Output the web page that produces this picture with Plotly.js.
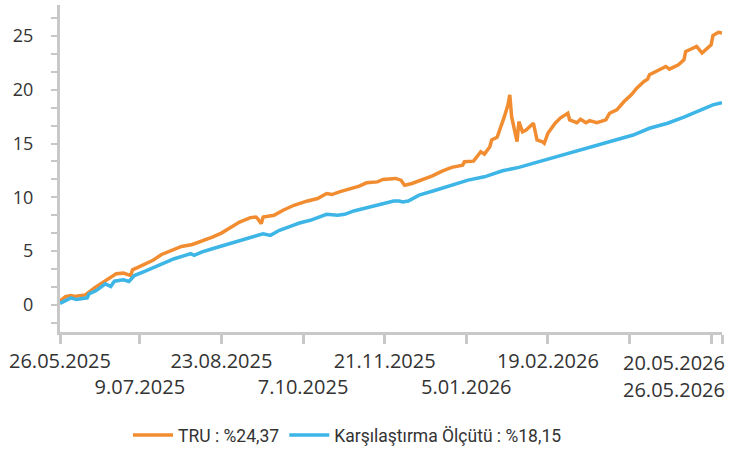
<!DOCTYPE html>
<html>
<head>
<meta charset="utf-8">
<script src="https://cdn.plot.ly/plotly-3.0.1.min.js"></script>
<style>
  html, body { margin: 0; padding: 0; background: #fff; }
  #plot { width: 739px; height: 451px; }
</style>
</head>
<body>
<div id="plot"></div>
<script>
// days since 26.05.2025 and cumulative return (%)
const truDays = [0, 3, 6, 8, 14, 17, 19, 23, 27, 31, 35, 37, 39, 40, 45, 51, 56, 62, 67, 73, 78, 84, 89, 94, 99, 105, 108, 109, 111, 112, 118, 123, 129, 136, 142, 147, 150, 154, 160, 165, 169, 175, 178, 185, 188, 190, 194, 200, 205, 211, 216, 222, 223, 228, 232, 234, 237, 238, 241, 245, 247, 248, 249, 252, 253, 255, 257, 261, 263, 266, 267, 269, 273, 276, 280, 281, 285, 287, 290, 292, 296, 301, 303, 307, 311, 315, 318, 322, 324, 325, 329, 334, 336, 341, 344, 345, 348, 351, 354, 358, 359, 360, 363, 365];
const truValues = [0.35, 0.75, 0.84, 0.75, 0.9, 1.31, 1.56, 2.0, 2.4, 2.87, 2.93, 2.8, 2.7, 3.24, 3.64, 4.1, 4.67, 5.05, 5.42, 5.6, 5.9, 6.29, 6.66, 7.22, 7.69, 8.1, 8.16, 8.0, 7.54, 8.16, 8.32, 8.79, 9.25, 9.63, 9.88, 10.35, 10.25, 10.5, 10.81, 11.03, 11.34, 11.43, 11.65, 11.75, 11.59, 11.12, 11.28, 11.65, 11.96, 12.46, 12.78, 12.99, 13.3, 13.36, 14.23, 14.02, 14.7, 15.33, 15.58, 17.5, 18.6, 19.53, 17.5, 15.17, 17.04, 16.1, 16.26, 16.89, 15.33, 15.17, 15.02, 15.95, 16.9, 17.4, 17.82, 17.2, 16.94, 17.26, 16.94, 17.13, 16.94, 17.2, 17.82, 18.13, 18.91, 19.53, 20.16, 20.78, 21.0, 21.4, 21.71, 22.18, 21.93, 22.34, 22.8, 23.58, 23.8, 24.05, 23.43, 24.05, 24.2, 25.05, 25.36, 25.3];

const benchDays = [0, 4, 6, 9, 15, 16, 20, 25, 28, 30, 35, 38, 41, 47, 52, 58, 63, 69, 72, 74, 78, 84, 89, 96, 103, 108, 112, 116, 121, 127, 132, 138, 143, 147, 153, 157, 162, 167, 173, 178, 184, 187, 189, 192, 198, 207, 216, 225, 234, 244, 253, 262, 271, 276, 280, 289, 298, 307, 316, 325, 335, 344, 353, 360, 365];
const benchValues = [0.12, 0.44, 0.63, 0.47, 0.63, 1.0, 1.31, 1.93, 1.68, 2.18, 2.31, 2.15, 2.71, 3.11, 3.49, 3.95, 4.27, 4.58, 4.74, 4.58, 4.89, 5.2, 5.45, 5.82, 6.23, 6.45, 6.6, 6.45, 6.92, 7.29, 7.6, 7.85, 8.16, 8.41, 8.32, 8.41, 8.72, 8.94, 9.25, 9.41, 9.65, 9.65, 9.56, 9.65, 10.19, 10.65, 11.12, 11.59, 11.9, 12.46, 12.78, 13.21, 13.62, 13.83, 14.08, 14.46, 14.95, 15.39, 15.79, 16.42, 16.89, 17.45, 18.07, 18.6, 18.81];

const tickDates = ["2025-05-26", "2025-07-09", "2025-08-23", "2025-10-07", "2025-11-21", "2026-01-05", "2026-02-19", "2026-04-05", "2026-05-20", "2026-05-26"];
const tickLabels = ["26.05.2025", "<br>9.07.2025", "23.08.2025", "<br>7.10.2025", "21.11.2025", "<br>5.01.2026", "19.02.2026", "", "", ""];
const endLabels = ["20.05.2026", "26.05.2026"];

const seriesNames = ["TRU : %24,37", "Karşılaştırma Ölçütü : %18,15"];

const startDate = Date.UTC(2025, 4, 26);

function dayToDate(d) {
    return new Date(startDate + d * 86400000).toISOString().slice(0, 10);
}

const axisGrey = "#c8c8c8";
const textColor = "#333333";

const traces = [
    {
        x: truDays.map(dayToDate),
        y: truValues,
        type: "scatter",
        mode: "lines",
        name: seriesNames[0],
        line: { color: "#f28c30", width: 3.5 }
    },
    {
        x: benchDays.map(dayToDate),
        y: benchValues,
        type: "scatter",
        mode: "lines",
        name: seriesNames[1],
        line: { color: "#3db5e6", width: 3.5 }
    }
];

const layout = {
    width: 739,
    height: 451,
    margin: { l: 60, r: 17, t: 5, b: 119 },
    paper_bgcolor: "#ffffff",
    plot_bgcolor: "#ffffff",
    xaxis: {
        type: "date",
        range: ["2025-05-26", "2026-05-26"],
        showgrid: false,
        zeroline: false,
        showline: true,
        linecolor: axisGrey,
        linewidth: 3,
        ticks: "outside",
        ticklen: 9,
        tickwidth: 3,
        tickcolor: axisGrey,
        tickvals: tickDates,
        ticktext: tickLabels,
        tickangle: 0,
        tickfont: { family: "Open Sans", size: 20, color: textColor }
    },
    yaxis: {
        range: [-2.55, 27.9],
        tick0: 0,
        dtick: 5,
        showgrid: false,
        zeroline: false,
        showline: true,
        linecolor: axisGrey,
        linewidth: 3,
        ticks: "outside",
        ticklen: 6,
        tickwidth: 2,
        tickcolor: axisGrey,
        ticklabelstandoff: 14,
        tickfont: { family: "Open Sans", size: 18, color: textColor },
        minor: {
            tick0: 0,
            dtick: 5 / 3,
            ticks: "outside",
            ticklen: 6,
            tickwidth: 2,
            tickcolor: axisGrey
        }
    },
    showlegend: true,
    legend: {
        orientation: "h",
        xref: "container",
        yref: "container",
        x: 128 / 739,
        xanchor: "left",
        y: 16 / 451,
        yanchor: "middle",
        itemwidth: 40,
        font: { family: "Roboto", size: 17.5, color: textColor }
    },
    annotations: endLabels.map((label, i) => ({
        text: label,
        xref: "paper",
        yref: "paper",
        x: 1.007,
        y: i === 0 ? -0.093 : -0.175,
        xanchor: "right",
        yanchor: "middle",
        showarrow: false,
        font: { family: "Open Sans", size: 20, color: textColor }
    }))
};

Plotly.newPlot("plot", traces, layout, { displayModeBar: false, staticPlot: true });
</script>
</body>
</html>
